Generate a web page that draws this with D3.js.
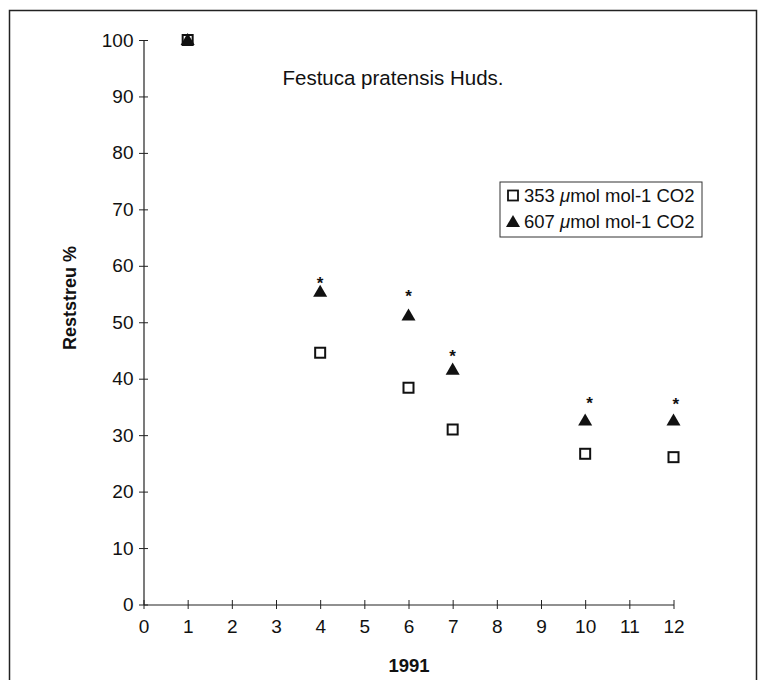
<!DOCTYPE html>
<html>
<head>
<meta charset="utf-8">
<script src="https://cdn.jsdelivr.net/npm/d3@7"></script>
<style>
  body { margin: 0; background: #fff; }
  text { font-family: "Liberation Sans", Arial, sans-serif; fill: #111; }
</style>
</head>
<body>
<script>
const w = 759;
const h = 680;

// data
const months = [1, 4, 6, 7, 10, 12];
const ambient = [100, 44.6, 38.4, 31.0, 26.7, 26.1];   // 353 umol mol-1 CO2
const elevated = [100, 55.4, 51.2, 41.6, 32.6, 32.6];  // 607 umol mol-1 CO2
const starX = [4, 6, 7, 10.1, 12.05];
const starY = [57.5, 55.2, 44.5, 36.2, 36.0];
const xTicks = [0, 1, 2, 3, 4, 5, 6, 7, 8, 9, 10, 11, 12];
const yTicks = [0, 10, 20, 30, 40, 50, 60, 70, 80, 90, 100];
const legendLabels = ["353 \u03BCmol mol-1 CO2", "607 \u03BCmol mol-1 CO2"];

const svg = d3.select("body")
  .append("svg")
  .attr("width", w)
  .attr("height", h);

// outer frame (open at the bottom)
svg.append("path")
  .attr("d", "M9.5,680 V10.5 H756.5 V680")
  .attr("fill", "none")
  .attr("stroke", "#222")
  .attr("stroke-width", 1.5);

const xScale = d3.scaleLinear().domain([0, 12]).range([143.5, 673.5]);
const yScale = d3.scaleLinear().domain([0, 100]).range([604.5, 40]);

// axes: ticks crossing the axis line
const xAxis = svg.append("g").attr("transform", `translate(0, ${yScale(0)})`)
  .call(d3.axisBottom(xScale).tickValues(xTicks).tickSize(0).tickPadding(15));
xAxis.select(".domain").attr("stroke", "#222").attr("stroke-width", 1.2);
xAxis.selectAll(".tick").append("line")
  .attr("y1", -4.5).attr("y2", 4.5).attr("stroke", "#222");
xAxis.attr("font-size", 19).attr("font-family", "Liberation Sans, Arial, sans-serif");
xAxis.selectAll(".tick text").attr("fill", "#111");

const yAxis = svg.append("g").attr("transform", `translate(${xScale(0)}, 0)`)
  .call(d3.axisLeft(yScale).tickValues(yTicks).tickSize(0).tickPadding(10));
yAxis.select(".domain").attr("stroke", "#222").attr("stroke-width", 1.2);
yAxis.selectAll(".tick").append("line")
  .attr("x1", -4.5).attr("x2", 4.5).attr("stroke", "#222");
yAxis.attr("font-size", 19).attr("font-family", "Liberation Sans, Arial, sans-serif");
yAxis.selectAll(".tick text").attr("fill", "#111");

// axis titles
svg.append("text")
  .attr("x", 409).attr("y", 672)
  .attr("text-anchor", "middle")
  .attr("font-size", 18.5).attr("font-weight", "bold")
  .text("1991");

svg.append("text")
  .attr("transform", `translate(76, 298) rotate(-90)`)
  .attr("text-anchor", "middle")
  .attr("font-size", 18).attr("font-weight", "bold")
  .text("Reststreu %");

// title
svg.append("text")
  .attr("x", 393).attr("y", 85)
  .attr("text-anchor", "middle")
  .attr("font-size", 20.5)
  .text("Festuca pratensis Huds.");

const tri = d3.symbol().type(d3.symbolTriangle).size(85);

// markers
svg.selectAll("rect.amb")
  .data(months)
  .enter()
  .append("rect")
  .attr("class", "amb")
  .attr("x", d => xScale(d) - 5)
  .attr("y", (d, i) => yScale(ambient[i]) - 5)
  .attr("width", 10)
  .attr("height", 10)
  .attr("fill", "#fff")
  .attr("stroke", "#111")
  .attr("stroke-width", 2);

svg.selectAll("path.elev")
  .data(months)
  .enter()
  .append("path")
  .attr("class", "elev")
  .attr("d", tri)
  .attr("transform", (d, i) => `translate(${xScale(d)}, ${yScale(elevated[i]) + 1})`)
  .attr("fill", "#111");

// significance stars
svg.selectAll("text.star")
  .data(starX)
  .enter()
  .append("text")
  .attr("class", "star")
  .attr("x", d => xScale(d))
  .attr("y", (d, i) => yScale(starY[i]) + 9)
  .attr("text-anchor", "middle")
  .attr("font-size", 17)
  .attr("font-weight", "bold")
  .text("*");

// legend
const legend = svg.append("g").attr("transform", "translate(500, 182)");
legend.append("rect")
  .attr("width", 202).attr("height", 55)
  .attr("fill", "#fff").attr("stroke", "#333").attr("stroke-width", 1);

legend.append("rect")
  .attr("x", 8).attr("y", 8.5).attr("width", 10).attr("height", 10)
  .attr("fill", "#fff").attr("stroke", "#111").attr("stroke-width", 1.8);
legend.append("path")
  .attr("d", tri)
  .attr("transform", "translate(13, 41)")
  .attr("fill", "#111");

legend.selectAll("text.lab")
  .data(legendLabels)
  .enter()
  .append("text")
  .attr("class", "lab")
  .attr("x", 24)
  .attr("y", (d, i) => 20 + i * 26)
  .attr("font-size", 18.5)
  .html(d => d.replace("\u03BCmol", "<tspan font-style='italic'>\u03BC</tspan>mol"));
</script>
</body>
</html>
